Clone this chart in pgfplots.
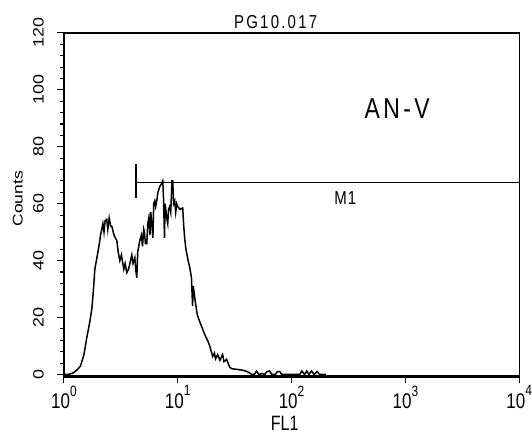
\documentclass[border=0pt]{standalone}
\usepackage{fontspec}
\setmainfont{Liberation Sans}
\usepackage{graphicx}
\usepackage{pgfplots}
\pgfplotsset{compat=1.18}
\newcommand{\xl}[1]{\scalebox{1}[1.25]{\fontsize{17bp}{17bp}\selectfont 10\raisebox{10bp}{\fontsize{12bp}{12bp}\selectfont #1}}}
\newcommand{\yl}[1]{\scalebox{1.2}[1]{\fontsize{15bp}{15bp}\selectfont #1}}

\pgfplotstableread{
x y
1 0
1.1 0
1.2 0.5
1.3 1.5
1.4 3
1.5 7
1.59 13
1.68 18
1.76 23
1.82 30
1.87 37
1.95 41
2.03 45
2.1 49
2.2 53
2.25 50
2.3 54
2.38 54.5
2.43 51
2.5 55
2.58 52
2.64 52
2.75 49
2.92 47
3.0 43
3.1 40
3.2 42
3.36 37
3.45 39
3.57 35.8
3.7 37
3.85 40
3.95 42
4.05 39
4.2 41
4.3 36
4.37 34
4.45 43
4.64 47
4.8 49
4.9 45
5.03 51
5.1 50
5.2 46
5.35 46
5.45 53
5.57 55
5.7 49
5.8 57
5.91 53
6.05 48
6.15 60
6.28 61
6.4 59
6.54 61
6.7 64
6.95 66
7.2 67
7.39 68
7.5 62
7.65 48
7.75 60
7.85 58
8.0 55
8.17 53
8.3 58
8.5 59
8.68 57
8.9 68
9.04 68
9.2 60
9.41 61
9.6 57
9.8 60
10.0 59
10.5 58
11.06 58.5
11.3 52
11.5 48
11.8 44
12.2 41
12.5 39
12.7 38
13.2 34
13.5 24
13.7 31
14.0 28
14.7 22
15.0 20.4
15.8 18
16.6 15.8
17.5 13.5
18.3 12
19.1 10
20.3 6.3
21.0 7.5
21.5 5.5
22.4 7.0
23.5 5.0
24.8 7.0
25.5 4.5
26.9 5.3
28.0 3.5
28.6 2.5
30.0 2
33.0 1.8
37 1.5
40.3 1.1
43 0.5
44.6 0
47 0
49.3 1.2
51.5 0
55 0.3
58 0
61 1
64.1 1.2
67 0
72 0
75 1
79 1
82 0
90 0
100 0
118 0
123 1.2
130 0
136 1.2
142 0
150 1.2
158 0
168 1
176 0
200 0
}\hist

\begin{document}
\begin{tikzpicture}
\path (0bp,0bp) rectangle (532bp,433bp);
\begin{axis}[
  at={(64bp,56bp)}, anchor=south west,
  scale only axis, width=456bp, height=344bp,
  xmode=log, log basis x=10,
  xmin=1, xmax=10000, ymin=-0.7, ymax=120,
  xtick={1,10,100,1000,10000},
  xticklabels={\xl{0},\xl{1},\xl{2},\xl{3},\xl{4}},
  ytick={0,20,40,60,80,100,120},
  yticklabels={\yl{0},\yl{20},\yl{40},\yl{60},\yl{80},\yl{100},\yl{120}},
  minor y tick num=4,
  xtick pos=bottom, ytick pos=left,
  tick align=outside,
  major tick length=7bp, minor tick length=4bp,
  tick style={black, line width=1.1bp},
  axis line style={line width=1.3bp},
  xticklabel style={anchor=north, inner sep=0pt},
  xticklabel shift=2bp,
  yticklabel style={rotate=90, anchor=south, inner sep=0pt},
  yticklabel shift=13bp,
  clip=false,
]
\addplot[black, line width=1.5bp] table[x=x,y=y] {\hist};
\addplot[black, line width=1.4bp] coordinates {(4.3,67.4) (10000,67.4)};
\addplot[black, line width=1.4bp] coordinates {(4.3,62) (4.3,74)};
\draw[line width=2.4bp] (rel axis cs:0,0) -- (rel axis cs:0,1);
\draw[line width=2.4bp] (rel axis cs:0,0) -- (rel axis cs:1,0);
\node[anchor=center] at (axis description cs:0.465,1.031) {\scalebox{1}[1.25]{\fontsize{15bp}{15bp}\selectfont\addfontfeature{LetterSpace=15}PG10.017}};
\node[anchor=center] at (axis description cs:0.732,0.779) {\scalebox{1}[1.25]{\fontsize{23bp}{23bp}\selectfont\addfontfeature{LetterSpace=15}AN-V}};
\node[anchor=center] at (axis description cs:0.618,0.520) {\scalebox{1}[1.25]{\fontsize{15bp}{15bp}\selectfont\addfontfeature{LetterSpace=8}M1}};
\node[anchor=center] at (axis description cs:0.485,-0.138) {\scalebox{1}[1.3]{\fontsize{16bp}{16bp}\selectfont FL1}};
\node[anchor=center, rotate=90] at (axis description cs:-0.101,0.517) {\scalebox{1.25}[1]{\fontsize{14bp}{14bp}\selectfont Counts}};
\end{axis}
\end{tikzpicture}
\end{document}
